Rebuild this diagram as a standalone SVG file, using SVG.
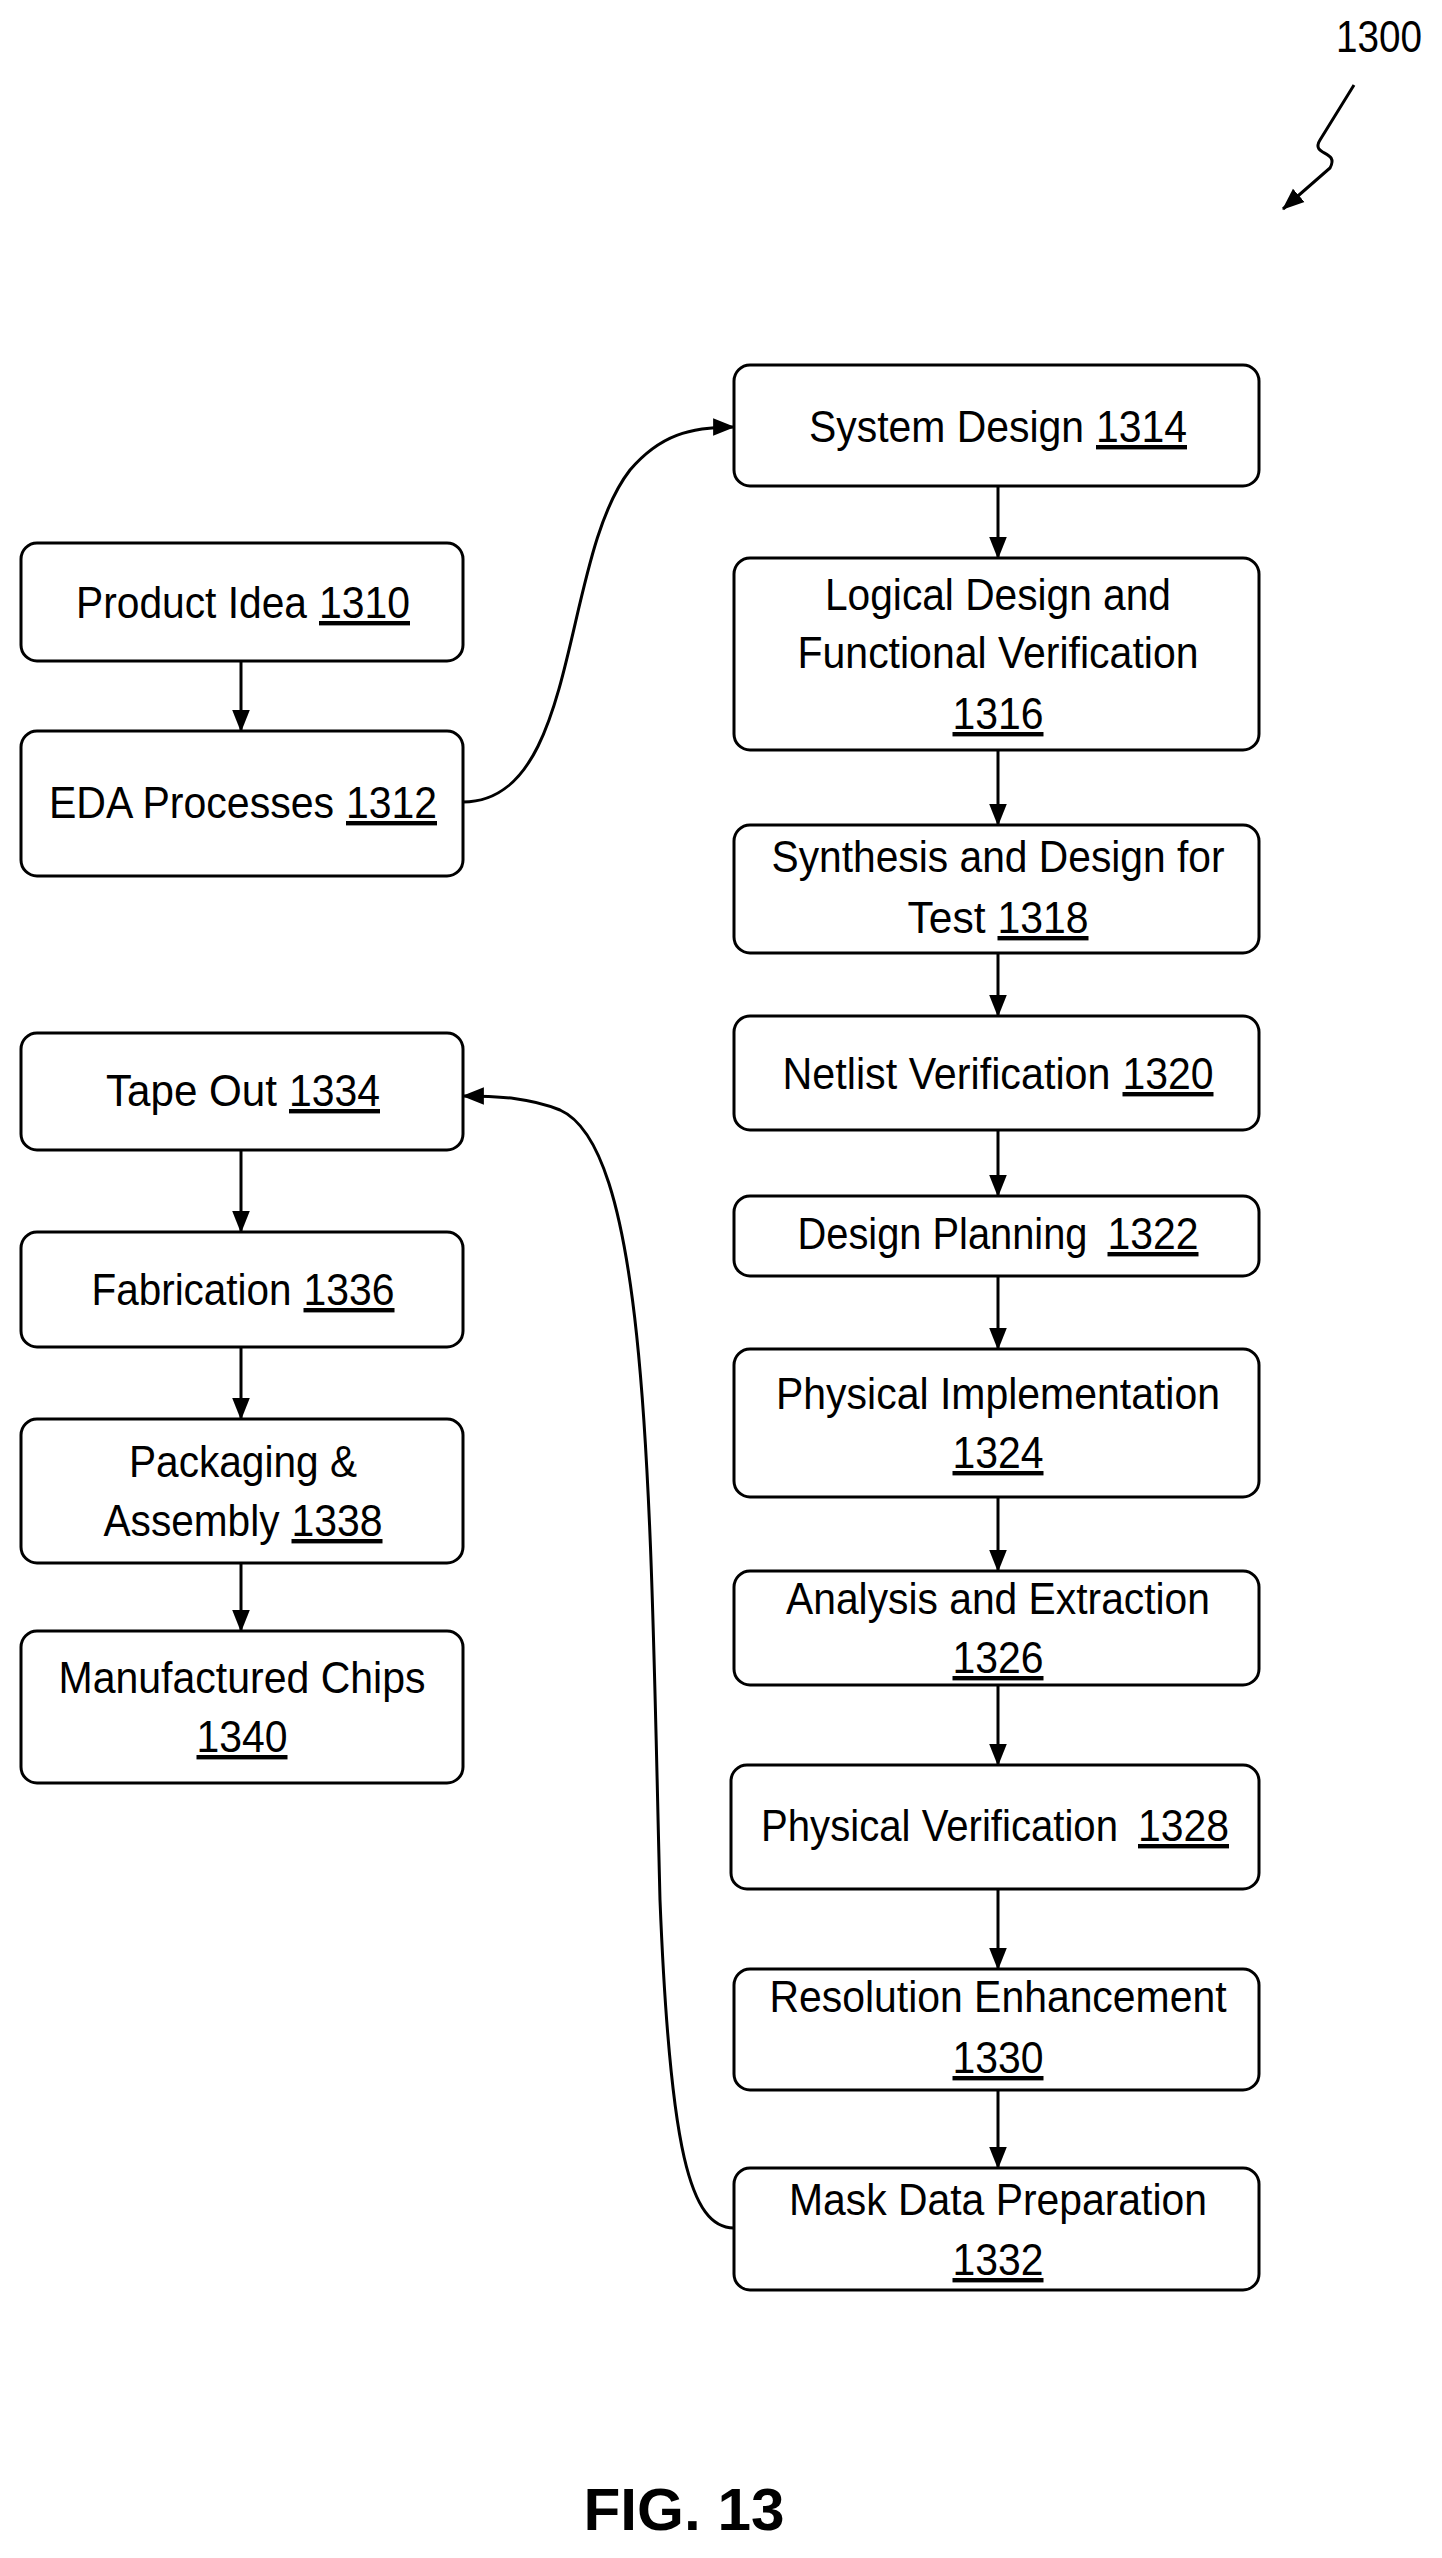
<svg xmlns="http://www.w3.org/2000/svg" width="1442" height="2558" viewBox="0 0 1442 2558">
<style>
.b{fill:#fff;stroke:#000;stroke-width:3}
.t{font-family:"Liberation Sans",Arial,sans-serif;font-size:44px;text-anchor:middle;fill:#000}
.s{text-anchor:start}
.u{text-decoration:underline}
.c{fill:none;stroke:#000;stroke-width:3}
</style>
<defs>
<marker id="m" viewBox="0 0 20 20" refX="19" refY="10" markerWidth="22" markerHeight="22" markerUnits="userSpaceOnUse" orient="auto"><path d="M0,2 L20,10 L0,18 z"/></marker></defs>
<g id="n1310"><rect class="b" x="21" y="543" width="442" height="118" rx="16"/><text class="t s" x="76" y="618" textLength="231" lengthAdjust="spacingAndGlyphs">Product Idea</text><text class="t s u" x="319" y="618" textLength="91" lengthAdjust="spacingAndGlyphs">1310</text></g>
<g id="n1312"><rect class="b" x="21" y="731" width="442" height="145" rx="16"/><text class="t s" x="49" y="818" textLength="285" lengthAdjust="spacingAndGlyphs">EDA Processes</text><text class="t s u" x="346" y="818" textLength="91" lengthAdjust="spacingAndGlyphs">1312</text></g>
<g id="n1334"><rect class="b" x="21" y="1033" width="442" height="117" rx="16"/><text class="t s" x="106" y="1106" textLength="171" lengthAdjust="spacingAndGlyphs">Tape Out</text><text class="t s u" x="289" y="1106" textLength="91" lengthAdjust="spacingAndGlyphs">1334</text></g>
<g id="n1336"><rect class="b" x="21" y="1232" width="442" height="115" rx="16"/><text class="t s" x="91.5" y="1305" textLength="200" lengthAdjust="spacingAndGlyphs">Fabrication</text><text class="t s u" x="303.5" y="1305" textLength="91" lengthAdjust="spacingAndGlyphs">1336</text></g>
<g id="n1338"><rect class="b" x="21" y="1419" width="442" height="144" rx="16"/><text class="t" x="243" y="1477" textLength="228" lengthAdjust="spacingAndGlyphs">Packaging &amp;</text><text class="t s" x="103.5" y="1536" textLength="176" lengthAdjust="spacingAndGlyphs">Assembly</text><text class="t s u" x="291.5" y="1536" textLength="91" lengthAdjust="spacingAndGlyphs">1338</text></g>
<g id="n1340"><rect class="b" x="21" y="1631" width="442" height="152" rx="16"/><text class="t" x="242" y="1693" textLength="367" lengthAdjust="spacingAndGlyphs">Manufactured Chips</text><text class="t u" x="242" y="1752" textLength="91" lengthAdjust="spacingAndGlyphs">1340</text></g>
<g id="n1314"><rect class="b" x="734" y="365" width="525" height="121" rx="16"/><text class="t s" x="809" y="442" textLength="275" lengthAdjust="spacingAndGlyphs">System Design</text><text class="t s u" x="1096" y="442" textLength="91" lengthAdjust="spacingAndGlyphs">1314</text></g>
<g id="n1316"><rect class="b" x="734" y="558" width="525" height="192" rx="16"/><text class="t" x="998" y="610" textLength="346" lengthAdjust="spacingAndGlyphs">Logical Design and</text><text class="t" x="998" y="668" textLength="401" lengthAdjust="spacingAndGlyphs">Functional Verification</text><text class="t u" x="998" y="729" textLength="91" lengthAdjust="spacingAndGlyphs">1316</text></g>
<g id="n1318"><rect class="b" x="734" y="825" width="525" height="128" rx="16"/><text class="t" x="998" y="872" textLength="453" lengthAdjust="spacingAndGlyphs">Synthesis and Design for</text><text class="t s" x="907.5" y="933" textLength="78" lengthAdjust="spacingAndGlyphs">Test</text><text class="t s u" x="997.5" y="933" textLength="91" lengthAdjust="spacingAndGlyphs">1318</text></g>
<g id="n1320"><rect class="b" x="734" y="1016" width="525" height="114" rx="16"/><text class="t s" x="782.5" y="1089" textLength="328" lengthAdjust="spacingAndGlyphs">Netlist Verification</text><text class="t s u" x="1122.5" y="1089" textLength="91" lengthAdjust="spacingAndGlyphs">1320</text></g>
<g id="n1322"><rect class="b" x="734" y="1196" width="525" height="80" rx="16"/><text class="t s" x="797.5" y="1249" textLength="290" lengthAdjust="spacingAndGlyphs">Design Planning</text><text class="t s u" x="1107.5" y="1249" textLength="91" lengthAdjust="spacingAndGlyphs">1322</text></g>
<g id="n1324"><rect class="b" x="734" y="1349" width="525" height="148" rx="16"/><text class="t" x="998" y="1409" textLength="444" lengthAdjust="spacingAndGlyphs">Physical Implementation</text><text class="t u" x="998" y="1468" textLength="91" lengthAdjust="spacingAndGlyphs">1324</text></g>
<g id="n1326"><rect class="b" x="734" y="1571" width="525" height="114" rx="16"/><text class="t" x="998" y="1614" textLength="424" lengthAdjust="spacingAndGlyphs">Analysis and Extraction</text><text class="t u" x="998" y="1673" textLength="91" lengthAdjust="spacingAndGlyphs">1326</text></g>
<g id="n1328"><rect class="b" x="731" y="1765" width="528" height="124" rx="16"/><text class="t s" x="761" y="1841" textLength="357" lengthAdjust="spacingAndGlyphs">Physical Verification</text><text class="t s u" x="1138" y="1841" textLength="91" lengthAdjust="spacingAndGlyphs">1328</text></g>
<g id="n1330"><rect class="b" x="734" y="1969" width="525" height="121" rx="16"/><text class="t" x="998" y="2012" textLength="457" lengthAdjust="spacingAndGlyphs">Resolution Enhancement</text><text class="t u" x="998" y="2073" textLength="91" lengthAdjust="spacingAndGlyphs">1330</text></g>
<g id="n1332"><rect class="b" x="734" y="2168" width="525" height="122" rx="16"/><text class="t" x="998" y="2215" textLength="418" lengthAdjust="spacingAndGlyphs">Mask Data Preparation</text><text class="t u" x="998" y="2275" textLength="91" lengthAdjust="spacingAndGlyphs">1332</text></g>
<g id="connectors">
<path class="c" marker-end="url(#m)" d="M241,661 V731"/>
<path class="c" marker-end="url(#m)" d="M241,1150 V1232"/>
<path class="c" marker-end="url(#m)" d="M241,1347 V1419"/>
<path class="c" marker-end="url(#m)" d="M241,1563 V1631"/>
<path class="c" marker-end="url(#m)" d="M998,486 V558"/>
<path class="c" marker-end="url(#m)" d="M998,750 V825"/>
<path class="c" marker-end="url(#m)" d="M998,953 V1016"/>
<path class="c" marker-end="url(#m)" d="M998,1130 V1196"/>
<path class="c" marker-end="url(#m)" d="M998,1276 V1349"/>
<path class="c" marker-end="url(#m)" d="M998,1497 V1571"/>
<path class="c" marker-end="url(#m)" d="M998,1685 V1765"/>
<path class="c" marker-end="url(#m)" d="M998,1889 V1969"/>
<path class="c" marker-end="url(#m)" d="M998,2090 V2168"/>
<path class="c" marker-end="url(#m)" d="M463,802 C580,802 560,560 630,470 C660,435 690,427 734,427"/>
<path class="c" marker-end="url(#m)" d="M734,2228 C690,2228 670,2150 660,1900 C650,1500 650,1150 560,1110 C530,1098 500,1096 463,1096"/>
<path class="c" marker-end="url(#m)" d="M1354,85 L1320,140 C1310,156 1340,150 1330,168 L1283,209"/>
</g>
<text class="t" x="1379" y="52" textLength="86" lengthAdjust="spacingAndGlyphs">1300</text>
<text class="t" x="684" y="2530" style="font-size:60px;font-weight:bold" textLength="201" lengthAdjust="spacingAndGlyphs">FIG. 13</text>
</svg>
